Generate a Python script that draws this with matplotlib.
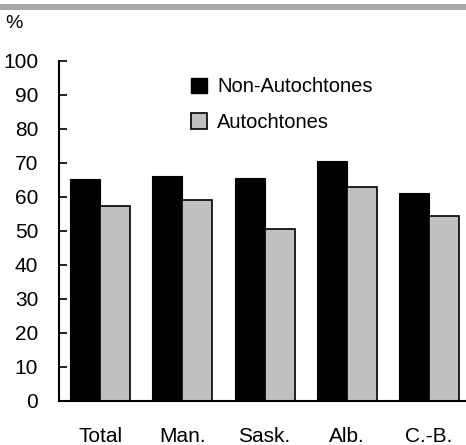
import matplotlib
matplotlib.use("Agg")
import matplotlib.pyplot as plt
from matplotlib.patches import Patch, Rectangle
import numpy as np

categories = ["Total", "Man.", "Sask.", "Alb.", "C.-B."]
non_autochtones = [65.1, 66.0, 65.4, 70.4, 61.0]
autochtones = [57.2, 58.9, 50.5, 62.8, 54.4]
series_labels = ["Non-Autochtones", "Autochtones"]
yticks = [0, 10, 20, 30, 40, 50, 60, 70, 80, 90, 100]

plt.rcParams['font.family'] = ['Liberation Sans', 'DejaVu Sans']

W, H = 466, 445
fig = plt.figure(figsize=(W / 100, H / 100), dpi=100)
ax = fig.add_axes([59 / W, (H - 400.5) / H, (W - 59) / W, 340 / H])

x = np.arange(len(categories))
bw = 0.365
ax.bar(x - bw / 2, non_autochtones, width=bw, color="black", edgecolor="black", linewidth=0.8)
ax.bar(x + bw / 2, autochtones, width=bw, color="#c0c0c0", edgecolor="black", linewidth=1.2)

ax.set_xlim(-0.5, 4.45)
ax.set_ylim(0, 100)
ax.set_yticks(yticks)
ax.set_yticklabels([str(v) for v in yticks])
ax.set_xticks(x)
ax.set_xticklabels(categories)
ax.tick_params(axis="y", direction="in", length=6, width=1.2, pad=15, labelsize=15)
ax.tick_params(axis="x", length=0, pad=19, labelsize=15)
for s in ["top", "right"]:
    ax.spines[s].set_visible(False)
ax.spines["left"].set_linewidth(1.5)
ax.spines["bottom"].set_linewidth(1.5)

handles = [Patch(facecolor="black", edgecolor="black"),
           Patch(facecolor="#c0c0c0", edgecolor="black", linewidth=1.2)]
leg = ax.legend(handles, series_labels, loc="upper left",
                bbox_to_anchor=(191 / W, (H - 77.5) / H), bbox_transform=fig.transFigure,
                frameon=False, fontsize=14.5, handlelength=0.8, handleheight=0.8,
                handletextpad=0.5, labelspacing=0.82, borderaxespad=0, borderpad=0)

fig.patches.append(Rectangle((0, 1 - 9.5 / H), 1, 5.5 / H, transform=fig.transFigure,
                             facecolor="#a8a8a8", edgecolor="none"))
fig.text(5 / W, 1 - 24 / H, "%", fontsize=14, va="center", ha="left")

fig.savefig("out.png", dpi=100)
